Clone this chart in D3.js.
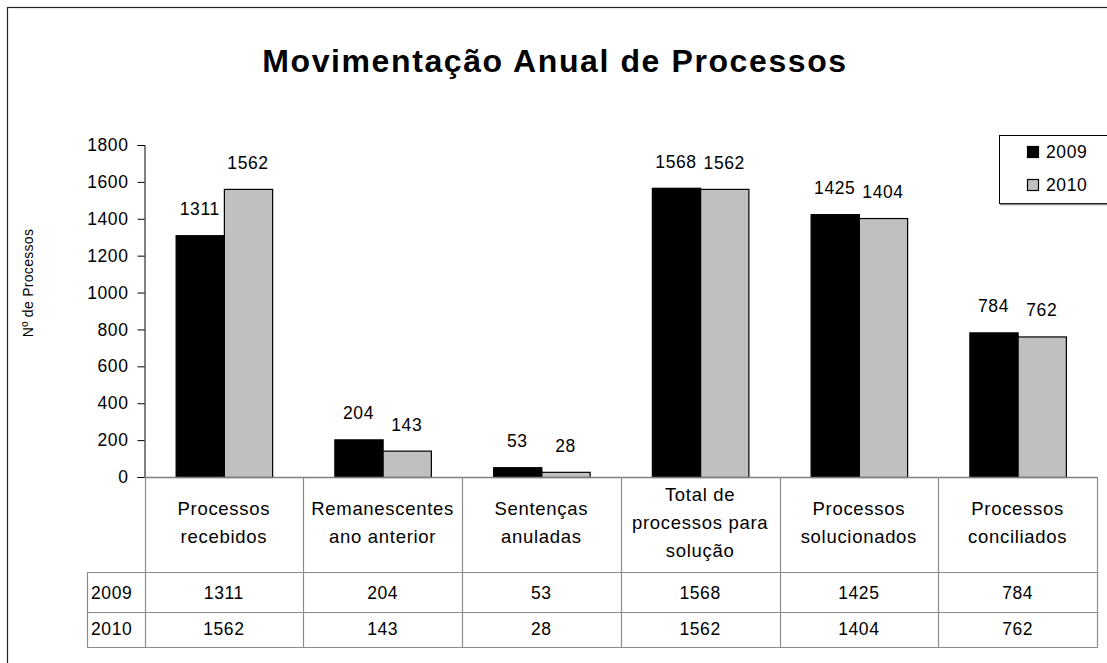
<!DOCTYPE html>
<html>
<head>
<meta charset="utf-8">
<script src="https://cdn.jsdelivr.net/npm/d3@7"></script>
<style>
  html, body { margin: 0; padding: 0; background: #fff; }
  svg { display: block; font-family: "Liberation Sans", Arial, sans-serif; }
</style>
</head>
<body>
<svg id="chart" width="1107" height="663"></svg>
<script>
const title = "Movimentação Anual de Processos";
const yAxisTitle = "Nº de Processos";
const categories = [
  "Processos\nrecebidos",
  "Remanescentes\nano anterior",
  "Sentenças\nanuladas",
  "Total de\nprocessos para\nsolução",
  "Processos\nsolucionados",
  "Processos\nconciliados"
];
const seriesNames = ["2009", "2010"];
const values2009 = [1311, 204, 53, 1568, 1425, 784];
const values2010 = [1562, 143, 28, 1562, 1404, 762];
const yTicks = [0, 200, 400, 600, 800, 1000, 1200, 1400, 1600, 1800];
const seriesColors = ["#000000", "#c0c0c0"];

const series = [values2009, values2010];
const numFont = 17.5, numSpacing = 0.6;
const hdrFont = 18.5, hdrSpacing = 0.7;

const svg = d3.select("#chart");

// outer frame
svg.append("rect").attr("x", 7.5).attr("y", 7.5).attr("width", 1120).attr("height", 700)
  .attr("fill", "none").attr("stroke", "#222").attr("stroke-width", 1.2);

// title
svg.append("text").attr("x", 555).attr("y", 72).attr("text-anchor", "middle")
  .attr("font-size", 32).attr("font-weight", "bold").attr("letter-spacing", 1.6)
  .attr("fill", "#000").text(title);

const pLeft = 144.5, pRight = 1097, pTop = 145, pBottom = 477;

const x0 = d3.scaleBand().domain(categories).range([pLeft, pRight]).paddingInner(0).paddingOuter(0);
const x1 = d3.scaleBand().domain(seriesNames).range([0, x0.bandwidth()]).paddingInner(0).paddingOuter(0.645);
const y = d3.scaleLinear().domain([0, 1800]).range([pBottom, pTop]);

// y axis
const yAxis = d3.axisLeft(y).tickValues(yTicks).tickSize(7).tickPadding(9).tickFormat(d3.format("d"));
const yg = svg.append("g").attr("transform", `translate(${pLeft},0)`).call(yAxis);
yg.select(".domain").attr("stroke", "#000").attr("d", `M-7,${pTop + 0.5}H0.5V${pBottom + 0.5}H-7`);
yg.selectAll(".tick line").attr("stroke", "#000");
yg.selectAll(".tick text").attr("font-size", numFont).attr("letter-spacing", numSpacing).attr("fill", "#000")
  .attr("font-family", "Liberation Sans, Arial, sans-serif");

// y axis title
svg.append("text").attr("transform", `translate(33,283) rotate(-90)`).attr("text-anchor", "middle")
  .attr("font-size", 14).attr("letter-spacing", 0.3).attr("fill", "#000").text(yAxisTitle);

// bars
const groups = svg.append("g").selectAll("g").data(categories).join("g")
  .attr("transform", d => `translate(${x0(d)},0)`);

groups.selectAll("rect").data((d, i) => seriesNames.map((s, j) => ({ s, v: series[j][i], j })))
  .join("rect")
  .attr("x", d => x1(d.s) + 0.5)
  .attr("y", d => y(d.v) + 0.5)
  .attr("width", x1.bandwidth())
  .attr("height", d => y(0) - y(d.v))
  .attr("fill", d => seriesColors[d.j])
  .attr("stroke", "#000").attr("stroke-width", 1.2);

groups.selectAll("text.lbl").data((d, i) => seriesNames.map((s, j) => ({ s, v: series[j][i], j })))
  .join("text").attr("class", "lbl")
  .attr("x", d => x1(d.s) + x1.bandwidth() / 2)
  .attr("y", d => y(d.v) - 20)
  .attr("text-anchor", "middle").attr("font-size", numFont).attr("letter-spacing", numSpacing).attr("fill", "#000")
  .text(d => d.v);

// x axis baseline
svg.append("line").attr("x1", pLeft).attr("x2", pRight).attr("y1", pBottom + 0.5).attr("y2", pBottom + 0.5)
  .attr("stroke", "#808080").attr("stroke-width", 1.5);

// data table
const tableLeft = 87, headerBottom = 572, row1Bottom = 612, row2Bottom = 647;
const gridColor = "#8c8c8c";
const tg = svg.append("g");
const bounds = categories.map(c => x0(c)).concat([pRight]);
tg.selectAll("line.v").data(bounds).join("line").attr("class", "v")
  .attr("x1", d => Math.round(d) + 0.5).attr("x2", d => Math.round(d) + 0.5)
  .attr("y1", pBottom).attr("y2", row2Bottom + 0.5)
  .attr("stroke", gridColor).attr("stroke-width", 1.2);
tg.append("line").attr("x1", tableLeft + 0.5).attr("x2", tableLeft + 0.5)
  .attr("y1", headerBottom).attr("y2", row2Bottom + 0.5).attr("stroke", gridColor).attr("stroke-width", 1.2);
tg.selectAll("line.h").data([headerBottom, row1Bottom, row2Bottom]).join("line").attr("class", "h")
  .attr("x1", tableLeft).attr("x2", pRight + 1).attr("y1", d => d + 0.5).attr("y2", d => d + 0.5)
  .attr("stroke", gridColor).attr("stroke-width", 1.2);

// header text
const headerMid = 523, lineH = 28;
categories.forEach(c => {
  const lines = c.split("\n");
  const t = tg.append("text").attr("text-anchor", "middle").attr("font-size", hdrFont)
    .attr("letter-spacing", hdrSpacing).attr("fill", "#000");
  lines.forEach((ln, k) => {
    t.append("tspan").attr("x", x0(c) + x0.bandwidth() / 2)
      .attr("y", headerMid + (k - (lines.length - 1) / 2) * lineH + 6)
      .text(ln);
  });
});

// data rows
const rowMids = [593, 629];
seriesNames.forEach((s, j) => {
  tg.append("text").attr("x", tableLeft + 4).attr("y", rowMids[j] + 6)
    .attr("font-size", numFont).attr("letter-spacing", numSpacing).attr("fill", "#000").text(s);
  categories.forEach((c, i) => {
    tg.append("text").attr("x", x0(c) + x0.bandwidth() / 2).attr("y", rowMids[j] + 6)
      .attr("text-anchor", "middle").attr("font-size", numFont).attr("letter-spacing", numSpacing).attr("fill", "#000")
      .text(series[j][i]);
  });
});

// legend
const lg = svg.append("g");
lg.append("rect").attr("x", 999.5).attr("y", 135.5).attr("width", 120).attr("height", 68)
  .attr("fill", "#fff").attr("stroke", "#000").attr("stroke-width", 1);
lg.append("line").attr("x1", 1000).attr("x2", 1107).attr("y1", 204.5).attr("y2", 204.5)
  .attr("stroke", "#888").attr("stroke-width", 1.5);
const legY = [152, 185];
seriesNames.forEach((s, j) => {
  lg.append("rect").attr("x", 1027.5).attr("y", legY[j] - 5.5).attr("width", 11).attr("height", 11)
    .attr("fill", seriesColors[j]).attr("stroke", "#000").attr("stroke-width", 1.2);
  lg.append("text").attr("x", 1046).attr("y", legY[j] + 6).attr("font-size", numFont)
    .attr("letter-spacing", numSpacing).attr("fill", "#000").text(s);
});
</script>
</body>
</html>
